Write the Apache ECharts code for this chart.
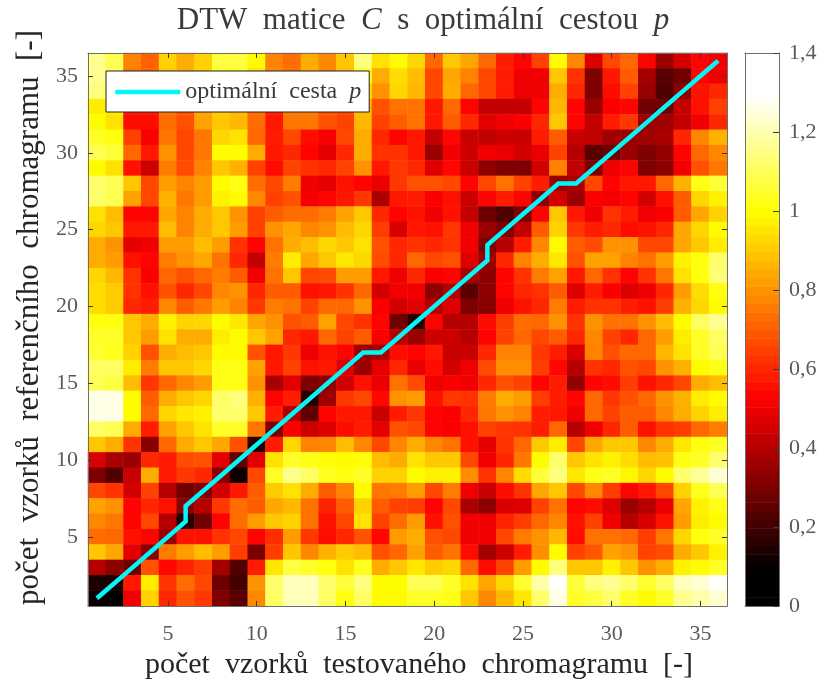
<!DOCTYPE html>
<html><head><meta charset="utf-8">
<style>html,body{margin:0;padding:0;background:#fff}#c{width:822px;height:681px}</style>
<script src="https://cdn.jsdelivr.net/npm/echarts@6/dist/echarts.min.js"></script>
</head><body><div id="c"></div>
<script>
const categories = Array.from({length: 36}, (_, i) => String(i + 1));
const titleText = 'DTW matice C s optimální cestou p';
const xAxisName = 'počet vzorků testovaného chromagramu [-]';
const yAxisName = 'počet vzorků referenčního chromagramu [-]';
const legendName = 'optimální cesta p';
const pathX = [1,2,3,4,5,6,6,7,8,9,10,11,12,13,14,15,16,17,18,19,20,21,22,23,23,24,25,26,27,28,29,30,31,32,33,34,35,36];
const pathY = [1,2,3,4,5,6,7,8,9,10,11,12,13,14,15,16,17,17,18,19,20,21,22,23,24,25,26,27,28,28,29,30,31,32,33,34,35,36];
// rows listed from y = 36 (top) down to y = 1 (bottom)
const rows = [
[1.17,1.10,.77,.71,.92,.85,.92,1.08,1.08,1.0,.77,.73,.85,.78,.90,1.15,.95,1.0,.93,.72,.90,.84,.72,.58,.53,.65,1.0,.78,.47,.66,.72,.53,.35,.45,.53,.50],
[1.17,1.10,.75,.72,.90,.85,.92,1.05,1.05,.95,.78,.74,.85,.78,.88,1.05,.85,.94,.88,.66,.84,.77,.66,.58,.50,.50,.90,.62,.30,.57,.70,.37,.24,.28,.53,.50],
[1.15,1.10,.72,.68,.88,.82,.90,1.0,1.0,.88,.75,.74,.82,.75,.85,.95,.80,.93,.87,.66,.85,.72,.66,.58,.50,.50,.85,.60,.30,.55,.65,.35,.22,.33,.56,.60],
[.97,.97,.57,.57,.74,.68,.83,.90,.87,.73,.58,.75,.75,.68,.66,.87,.68,.74,.74,.57,.72,.53,.42,.42,.42,.53,.87,.53,.35,.52,.53,.28,.28,.42,.56,.65],
[1.0,.95,.55,.55,.73,.68,.83,.90,.87,.73,.57,.75,.75,.68,.65,.87,.65,.70,.74,.57,.70,.60,.48,.50,.52,.60,.90,.53,.42,.58,.63,.35,.36,.42,.50,.60],
[1.05,1.02,.65,.52,.75,.66,.75,.93,.95,.72,.58,.66,.55,.52,.66,.85,.60,.53,.57,.42,.54,.43,.42,.44,.43,.58,.70,.43,.42,.36,.35,.36,.38,.60,.78,.86],
[1.10,1.07,.72,.57,.80,.66,.75,1.0,1.0,.85,.57,.60,.53,.48,.60,.85,.62,.62,.57,.35,.50,.44,.50,.49,.45,.49,.65,.40,.24,.28,.35,.30,.34,.53,.72,.78],
[1.0,.95,.56,.44,.76,.67,.77,.90,.86,.65,.55,.65,.62,.60,.65,.80,.57,.63,.60,.47,.54,.43,.33,.30,.30,.45,.77,.42,.30,.50,.53,.30,.33,.50,.68,.75],
[1.13,1.10,.90,.66,.82,.77,.82,1.0,1.03,.73,.66,.76,.50,.48,.56,.53,.49,.63,.68,.68,.66,.53,.66,.74,.65,.58,.35,.38,.66,.53,.57,.57,.72,.86,1.03,1.07],
[1.13,1.10,.83,.66,.86,.75,.82,.98,1.0,.78,.65,.68,.51,.53,.57,.63,.38,.57,.58,.52,.56,.43,.53,.58,.53,.33,.45,.35,.52,.51,.53,.45,.56,.70,.93,.98],
[.95,.88,.53,.53,.84,.77,.85,.90,.80,.65,.70,.73,.73,.76,.83,.90,.60,.53,.56,.50,.56,.42,.27,.22,.30,.53,.90,.57,.50,.62,.58,.50,.52,.70,.84,.92],
[.93,.90,.57,.57,.88,.77,.85,.90,.82,.65,.80,.84,.78,.80,.88,.93,.64,.46,.57,.56,.63,.50,.35,.30,.42,.70,.92,.63,.58,.60,.55,.56,.60,.84,.93,1.0],
[.85,.80,.48,.50,.82,.82,.88,.82,.62,.53,.74,.85,.88,.93,.90,.95,.68,.60,.62,.60,.62,.50,.30,.40,.58,.78,1.0,.70,.67,.80,.80,.66,.66,.84,.90,.97],
[.85,.82,.56,.53,.76,.80,.84,.74,.60,.42,.76,.97,.84,.90,.96,.93,.67,.60,.72,.66,.68,.47,.35,.60,.77,.85,.96,.68,.83,.83,.77,.74,.82,.98,1.02,1.13],
[.93,.87,.62,.52,.72,.68,.72,.76,.70,.50,.74,.90,.66,.67,.82,.82,.57,.50,.60,.52,.53,.38,.33,.53,.62,.76,.83,.57,.72,.62,.53,.62,.75,.95,1.02,1.14],
[.94,.91,.62,.56,.68,.60,.66,.78,.80,.60,.70,.70,.56,.57,.62,.72,.45,.50,.50,.33,.40,.24,.33,.53,.60,.62,.70,.47,.58,.52,.47,.50,.60,.82,.94,1.02],
[.94,.91,.60,.58,.78,.70,.75,.82,.77,.63,.76,.74,.65,.72,.72,.80,.52,.45,.48,.40,.47,.30,.32,.50,.56,.60,.76,.58,.62,.62,.58,.56,.64,.86,.93,1.0],
[1.02,1.02,.90,.85,.98,.92,.93,1.0,.96,.84,.80,.68,.70,.83,.66,.62,.53,.28,.15,.53,.40,.40,.55,.64,.73,.72,.80,.62,.80,.74,.74,.80,.88,1.0,1.12,1.17],
[1.05,1.05,.90,.82,.95,.85,.85,.97,1.0,.90,.83,.60,.57,.72,.65,.70,.52,.40,.35,.44,.44,.40,.53,.65,.72,.66,.70,.60,.78,.65,.60,.72,.82,.97,1.05,1.12],
[1.06,1.04,.92,.68,.85,.88,.90,1.0,1.0,.68,.57,.63,.50,.56,.53,.35,.38,.55,.53,.57,.43,.43,.60,.77,.77,.63,.58,.46,.77,.68,.72,.72,.87,.95,1.05,1.10],
[1.12,1.12,.97,.76,.90,.90,.93,1.03,1.03,.83,.57,.65,.56,.57,.47,.35,.48,.60,.49,.55,.45,.50,.67,.79,.79,.64,.54,.40,.62,.60,.68,.66,.80,.86,1.0,1.03],
[1.10,1.08,.88,.63,.72,.78,.82,1.03,1.03,.80,.38,.48,.30,.33,.45,.56,.49,.74,.67,.50,.52,.50,.60,.68,.65,.53,.58,.34,.53,.55,.64,.56,.60,.66,.85,.88],
[1.27,1.27,1.0,.70,.85,.90,.93,1.13,1.15,.86,.53,.58,.15,.36,.63,.66,.54,.80,.82,.56,.63,.62,.76,.85,.82,.64,.58,.53,.72,.63,.68,.72,.80,.86,.97,1.0],
[1.27,1.27,1.0,.72,.93,.96,.98,1.13,1.13,.90,.58,.40,.25,.53,.57,.57,.43,.58,.63,.53,.52,.60,.75,.80,.77,.58,.57,.50,.72,.65,.70,.70,.78,.85,.92,.97],
[1.12,1.10,.85,.58,.83,.90,.95,1.05,1.05,.75,.30,.52,.44,.47,.55,.58,.48,.68,.66,.53,.52,.56,.65,.63,.62,.58,.72,.40,.50,.60,.70,.56,.62,.64,.72,.76],
[.90,.85,.62,.32,.72,.85,.90,.84,.68,.15,.58,.93,.77,.78,.88,.78,.66,.78,.85,.78,.74,.56,.48,.62,.72,.90,.97,.66,.84,.90,.90,.78,.85,.96,1.02,1.05],
[.46,.38,.35,.60,.58,.67,.68,.48,.25,.48,.95,1.05,1.03,1.01,1.0,1.01,.88,.85,.95,.90,.90,.66,.50,.60,.75,1.0,1.13,.90,.95,.98,.94,.88,.89,1.03,1.05,1.13],
[.30,.22,.43,.85,.58,.63,.60,.32,.10,.66,1.05,1.17,1.12,1.04,1.02,1.05,.92,.92,1.0,.98,.98,.79,.62,.78,.94,1.07,1.15,.96,1.03,1.05,.99,.93,1.0,1.13,1.18,1.25],
[.66,.62,.45,.65,.40,.28,.30,.45,.57,.70,.91,.95,.85,.70,.77,1.0,.75,.76,.82,.66,.76,.50,.43,.55,.62,.84,.90,.66,.78,.64,.53,.57,.66,.92,1.04,1.10],
[.83,.80,.53,.60,.56,.32,.40,.63,.73,.70,.84,.87,.74,.59,.70,.92,.70,.65,.64,.53,.66,.38,.33,.46,.47,.65,.74,.53,.55,.47,.35,.40,.49,.84,.98,1.03],
[.78,.75,.53,.66,.40,.15,.28,.53,.73,.82,.90,.92,.74,.56,.66,.95,.65,.73,.82,.56,.68,.50,.50,.59,.64,.72,.78,.56,.65,.50,.40,.46,.56,.82,.97,1.0],
[.73,.72,.56,.53,.35,.56,.56,.62,.66,.53,.61,.82,.63,.55,.60,.68,.54,.82,.85,.68,.66,.50,.51,.66,.76,.80,.87,.55,.74,.74,.72,.64,.75,.93,1.02,1.05],
[.90,.84,.48,.32,.76,.82,.88,.82,.64,.30,.64,.90,.78,.86,.91,.88,.68,.72,.83,.70,.74,.55,.37,.44,.58,.79,1.0,.65,.69,.83,.80,.65,.67,.85,.90,.98],
[.40,.33,.27,.68,.54,.59,.64,.37,.22,.58,.96,1.08,1.05,1.02,.95,1.04,.85,.90,.96,.91,.93,.72,.55,.65,.82,1.0,1.15,.90,.90,.98,.90,.80,.85,.98,1.0,1.05],
[.13,.13,.57,.97,.62,.73,.66,.27,.20,.80,1.13,1.22,1.22,1.13,1.07,1.15,1.0,1.0,1.10,1.10,1.05,.95,.84,.93,1.06,1.20,1.30,1.07,1.15,1.17,1.13,1.06,1.12,1.22,1.25,1.30],
[.10,.06,.50,.92,.60,.68,.63,.30,.24,.78,1.12,1.22,1.22,1.12,1.02,1.12,1.0,1.0,1.05,1.05,1.03,.90,.78,.87,.96,1.13,1.27,1.05,1.08,1.13,1.05,1.0,1.05,1.17,1.20,1.25]
];
const cMax = 1.4, levels = 64;
const ink = '#262626', tickInk = '#5a5a5a', edge = '#6e6e6e', tickEdge = '#3a3a3a', cyan = '#00f8f8';
const serif = '"Liberation Serif", serif';
const wide = s => s.split(' ').join('  ');

function hot(v) {
  const r = Math.min(1, Math.max(0, (v - .09) / .44));
  const g = Math.min(1, Math.max(0, (v - .53) / .47));
  const b = Math.min(1, Math.max(0, (v - 1.0) / .29));
  return `rgb(${Math.round(r*255)},${Math.round(g*255)},${Math.round(b*255)})`;
}
const palette = Array.from({length: levels}, (_, i) => hot((i + .5) * cMax / levels));
const barLevels = palette.map((c, i) => [i * cMax / levels, (i + 1) * cMax / levels, c]);
const heat = [];
rows.forEach((row, r) => row.forEach((v, c) => heat.push([c, 35 - r, v])));
const path = pathX.map((x, i) => [String(x), String(pathY[i])]);
const every5 = (i, v) => Number(v) % 5 === 0;

const tickLine = {show: true, onZero: false, lineStyle: {color: edge, width: 1}};
const catAxis = (position, labels, margin) => ({type: 'category', data: categories, gridIndex: 0, position, z: 4,
  axisLine: tickLine, splitLine: {show: false},
  axisTick: {show: true, inside: true, length: 5, alignWithLabel: true, interval: every5, lineStyle: {color: tickEdge}},
  axisLabel: {show: labels, interval: every5, color: tickInk, fontFamily: serif, fontSize: 22, margin}});
const plainX = (position) => ({type: 'category', data: ['c'], gridIndex: 1, position, z: 4,
  axisLine: tickLine, axisTick: {show: false}, axisLabel: {show: false}});

const chart = echarts.init(document.getElementById('c'), null, {renderer: 'canvas'});
const titleParts = titleText.split(' ');
chart.setOption({
  animation: false,
  backgroundColor: '#fff',
  title: {
    text: `${titleParts.slice(0, 2).join('  ')}  {i|${titleParts[2]}}  ${titleParts.slice(3, 6).join('  ')}  {i|${titleParts[6]}}`,
    left: 418, top: 0, textAlign: 'center',
    textStyle: {color: '#3a3a3a', fontFamily: serif, fontWeight: 'normal', fontSize: 31,
      rich: {i: {fontStyle: 'italic', fontFamily: serif, fontSize: 31, color: '#3a3a3a'}}}
  },
  grid: [
    {left: 88, top: 53, width: 639, height: 553, outerBoundsMode: 'none'},
    {left: 745, top: 53, width: 34, height: 553, outerBoundsMode: 'none'}
  ],
  xAxis: [
    Object.assign(catAxis('bottom', true, 17), {name: wide(xAxisName), nameLocation: 'middle', nameGap: 44,
      nameTextStyle: {color: ink, fontFamily: serif, fontSize: 30, padding: [0, 0, 0, 23]}}),
    catAxis('top', false, 14),
    plainX('bottom'), plainX('top')
  ],
  yAxis: [
    Object.assign(catAxis('left', true, 10), {name: wide(yAxisName), nameLocation: 'middle', nameGap: 39,
      nameTextStyle: {color: ink, fontFamily: serif, fontSize: 31, padding: [0, 0, 0, 24]}}),
    catAxis('right', false, 10),
    {type: 'value', gridIndex: 1, position: 'right', min: 0, max: cMax, interval: .2, z: 4,
      axisLine: tickLine, splitLine: {show: false},
      axisTick: {show: true, inside: true, length: 6, lineStyle: {color: tickEdge}},
      axisLabel: {show: true, color: tickInk, fontFamily: serif, fontSize: 22, margin: 10,
        formatter: v => String(Math.round(v * 10) / 10).replace('.', ',')}},
    {type: 'value', gridIndex: 1, position: 'left', min: 0, max: cMax, interval: .2, z: 4,
      axisLine: tickLine, splitLine: {show: false}, axisTick: {show: false}, axisLabel: {show: false}}
  ],
  visualMap: {show: false, type: 'continuous', min: 0, max: cMax, dimension: 2, seriesIndex: 0,
    inRange: {color: palette}},
  legend: {
    left: 106, top: 71, orient: 'horizontal', itemWidth: 65, itemHeight: 14, padding: [9, 8, 8, 7],
    backgroundColor: '#fff', borderColor: '#222', borderWidth: 1,
    itemStyle: {opacity: 0},
    lineStyle: {color: cyan, width: 4.5},
    data: [legendName],
    formatter: () => `{a|${wide(legendName.slice(0, -2))}}  {b|${legendName.slice(-1)}}`,
    textStyle: {color: ink, fontFamily: serif, fontSize: 24,
      rich: {a: {fontFamily: serif, fontSize: 24, color: '#3a3a3a'}, b: {fontFamily: serif, fontStyle: 'italic', fontSize: 24, color: '#3a3a3a'}}}
  },
  series: [
    {type: 'heatmap', xAxisIndex: 0, yAxisIndex: 0, data: heat, z: 2, progressive: 0,
      itemStyle: {borderWidth: 0}, emphasis: {disabled: true}},
    {type: 'line', name: legendName, xAxisIndex: 0, yAxisIndex: 0, data: path, z: 3,
      symbol: 'none', showSymbol: false, smooth: false, lineStyle: {color: cyan, width: 4.5, join: 'miter'},
      itemStyle: {color: cyan}},
    {type: 'custom', xAxisIndex: 2, yAxisIndex: 2, data: barLevels, z: 2,
      encode: {y: [0, 1]},
      renderItem: (params, api) => {
        const top = api.coord(['c', api.value(1)]);
        const bottom = api.coord(['c', api.value(0)]);
        const w = api.size(['c', 0])[0];
        return {type: 'rect', shape: {x: top[0] - w / 2, y: top[1], width: w, height: bottom[1] - top[1] + .5},
          style: {fill: barLevels[params.dataIndex][2]}};
      }}
  ]
});
</script></body></html>
